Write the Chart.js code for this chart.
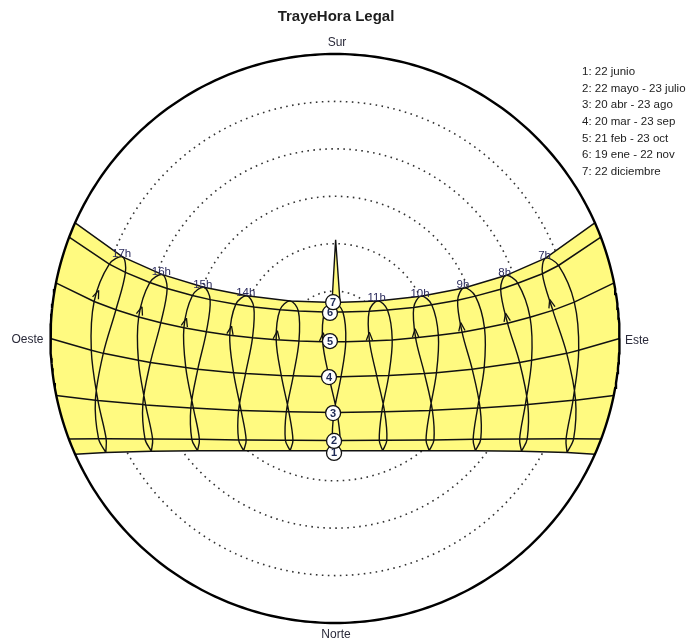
<!DOCTYPE html>
<html>
<head>
<meta charset="utf-8">
<script src="https://cdn.jsdelivr.net/npm/chart.js@4/dist/chart.umd.min.js"></script>
<style>
  html, body { margin: 0; padding: 0; background: #ffffff; }
  canvas { display: block; }
</style>
</head>
<body>
<canvas id="sunpath" width="688" height="638"></canvas>
<script>
// Sun path diagram, equidistant polar projection.
// Coordinates are degrees from the zenith: x toward Este, y toward Sur.

const chartTitle = 'TrayeHora Legal';
const dateLabels = [
  '1: 22 junio',
  '2: 22 mayo - 23 julio',
  '3: 20 abr - 23 ago',
  '4: 20 mar - 23 sep',
  '5: 21 feb - 23 oct',
  '6: 19 ene - 22 nov',
  '7: 22 diciembre'
];
const hourLabels = ['7h', '8h', '9h', '10h', '11h', '12h', '13h', '14h', '15h', '16h', '17h'];
const unlabeledHours = ['12h', '13h'];

// Each hour path runs through the year:
// 22 jun, 23 jul, 23 ago, 23 sep, 23 oct, 22 nov, 22 dic, 19 ene, 21 feb, 20 mar, 20 abr, 22 may
// and this says which date curve (1..7) each of those positions lies on.
const cycleCurve = [1, 2, 3, 4, 5, 6, 7, 6, 5, 4, 3, 2];

const h07 = [[73.4,-36.1],[75.5,-31.7],[76.1,-19.5],[73.3,-4.7],[68.9,8.9],[65.6,20.5],[66.6,25.4],[70.7,23.1],[75.7,11.5],[77.1,-3.7],[75.3,-19.5],[73.1,-31.7]];
const h08 = [[59.0,-35.7],[60.8,-31.8],[61.0,-20.9],[58.4,-7.6],[54.6,4.8],[52.4,15.6],[54.0,19.9],[57.8,17.5],[61.7,6.7],[62.2,-6.9],[60.2,-21.0],[58.4,-31.8]];
const h09 = [[44.4,-35.5],[46.1,-31.9],[45.9,-22.0],[43.4,-9.7],[40.2,2.0],[38.8,12.1],[40.8,16.0],[44.4,13.4],[47.3,3.3],[47.2,-9.2],[45.1,-22.0],[43.7,-31.9]];
const h10 = [[29.8,-35.5],[31.3,-32.1],[30.8,-22.7],[28.3,-11.1],[25.5,0.2],[24.9,9.8],[27.2,13.4],[30.6,10.7],[32.7,1.0],[32.1,-10.8],[30.0,-22.8],[28.8,-32.1]];
const h11 = [[15.1,-35.5],[16.4,-32.2],[15.7,-23.2],[13.2,-11.8],[10.9,-0.8],[10.8,8.6],[13.5,11.9],[16.6,9.0],[18.1,-0.5],[17.0,-11.7],[14.8,-23.2],[14.0,-32.2]];
const h12 = [[0.4,-35.5],[1.6,-32.3],[0.6,-23.4],[-1.9,-12.1],[-3.9,-1.0],[-3.3,8.4],[-0.4,11.4],[2.5,8.4],[3.4,-1.0],[1.9,-12.1],[-0.3,-23.4],[-0.8,-32.3]];
const h13 = [[-14.2,-35.5],[-13.3,-32.2],[-14.6,-23.2],[-17.0,-11.7],[-18.6,-0.4],[-17.4,9.1],[-14.2,11.9],[-11.6,8.7],[-11.4,-0.8],[-13.2,-11.8],[-15.4,-23.2],[-15.7,-32.2]];
const h14 = [[-28.9,-35.5],[-28.1,-32.1],[-29.7,-22.8],[-32.1,-10.8],[-33.3,1.0],[-31.4,10.8],[-27.9,13.5],[-25.7,10.0],[-26.1,0.2],[-28.3,-11.1],[-30.5,-22.8],[-30.5,-32.1]];
const h15 = [[-43.5,-35.5],[-42.9,-31.9],[-44.8,-22.0],[-47.2,-9.2],[-47.8,3.4],[-45.1,13.6],[-41.5,16.2],[-39.5,12.3],[-40.7,2.1],[-43.4,-9.7],[-45.6,-22.0],[-45.3,-31.9]];
const h16 = [[-58.1,-35.7],[-57.7,-31.8],[-59.9,-21.0],[-62.2,-6.9],[-62.1,6.8],[-58.6,17.7],[-54.6,20.2],[-53.1,15.8],[-55.1,5.0],[-58.4,-7.6],[-60.8,-20.9],[-60.1,-31.8]];
const h17 = [[-72.5,-36.1],[-72.4,-31.7],[-75.0,-19.6],[-77.1,-3.7],[-76.2,11.7],[-71.4,23.5],[-67.2,25.8],[-66.3,20.9],[-69.3,9.1],[-73.3,-4.7],[-75.8,-19.5],[-74.8,-31.7]];
const hourPaths = [h07, h08, h09, h10, h11, h12, h13, h14, h15, h16, h17];

// Sunrise / sunset points of each date curve on the horizon (east at +x, west at -x)
const horizonX = [82.2, 84.2, 88.2, 90.0, 88.3, 84.1, 82.2];
const horizonY = [-36.6, -31.8, -18.0, 0.0, 17.6, 32.1, 36.6];

// Numbered markers of the date curves near the meridian
const curveLabelX = [-0.3, -0.3, -0.6, -1.9, -1.6, -1.6, -0.6];
const curveLabelY = [-36.2, -32.4, -23.6, -12.2, -0.8, 8.1, 11.5];

// Narrow noon mark rising above the 22 dic curve
const noonSpike = [[-0.95, 11.4], [0.2, 31.2], [1.6, 11.4]];

// Altitude rings (zenith distance, degrees) and the horizon
const zenithRings = [15, 30, 45, 60, 75];
const horizonRadius = 90;

const ink = '#111111';
const bandYellow = '#fffa80';
const fontFamily = '"Liberation Sans", Arial, Helvetica, sans-serif';

function arcPoints(r, a0, a1, stepDeg) {
  const n = Math.max(2, Math.ceil(Math.abs(a1 - a0) / stepDeg));
  const pts = [];
  for (let i = 0; i <= n; i++) {
    const a = (a0 + (a1 - a0) * i / n) * Math.PI / 180;
    pts.push({ x: r * Math.cos(a), y: r * Math.sin(a) });
  }
  return pts;
}

// A date curve: every hour position on it plus its two horizon ends, east to west
function dateCurve(c) {
  const pts = [];
  hourPaths.forEach(path => path.forEach((p, i) => {
    if (cycleCurve[i] === c + 1) pts.push({ x: p[0], y: p[1] });
  }));
  pts.push({ x: horizonX[c], y: horizonY[c] }, { x: -horizonX[c], y: horizonY[c] });
  return pts.sort((a, b) => b.x - a.x);
}

const toDeg = r => r * 180 / Math.PI;
const lineBase = { showLine: true, pointRadius: 0, pointHoverRadius: 0, fill: false, clip: false, tension: 0 };
const datasets = [];

zenithRings.forEach(r => datasets.push({
  ...lineBase, data: arcPoints(r, 0, 360, 2),
  borderColor: '#333333', borderWidth: 1.6, borderDash: [1.6, 4.4], order: 100
}));

// Yellow band between the 22 dic and 22 jun curves, closed along the horizon
const top7 = dateCurve(6);
const bottom1 = dateCurve(0).slice().reverse();
const west7 = toDeg(Math.atan2(horizonY[6], -horizonX[6]));
const west1 = 360 + toDeg(Math.atan2(horizonY[0], -horizonX[0]));
const east1 = toDeg(Math.atan2(horizonY[0], horizonX[0]));
const east7 = toDeg(Math.atan2(horizonY[6], horizonX[6]));
datasets.push({
  ...lineBase,
  data: [...top7, ...arcPoints(horizonRadius, west7, west1, 2), ...bottom1, ...arcPoints(horizonRadius, east1, east7, 2)],
  fill: 'shape', backgroundColor: bandYellow, borderColor: 'rgba(0,0,0,0)', borderWidth: 0, order: 90
});

for (let c = 0; c < 7; c++) {
  datasets.push({ ...lineBase, data: dateCurve(c), borderColor: ink, borderWidth: 1.5, order: 50 });
}

hourPaths.forEach(path => {
  const pts = path.map(([x, y]) => ({ x, y }));
  pts.push({ x: path[0][0], y: path[0][1] });
  datasets.push({ ...lineBase, data: pts, borderColor: ink, borderWidth: 1.4, tension: 0.35, order: 40 });
});

datasets.push({
  ...lineBase, data: arcPoints(horizonRadius, 0, 360, 1),
  borderColor: '#000000', borderWidth: 2.4, order: 30
});

datasets.push({
  ...lineBase,
  data: [...noonSpike.map(([x, y]) => ({ x, y })), { x: noonSpike[0][0], y: noonSpike[0][1] }],
  fill: 'shape', backgroundColor: bandYellow, borderColor: ink, borderWidth: 1.4, order: 20
});

// Arrows, hour names, curve markers and all surrounding text
const decorations = {
  id: 'decorations',
  afterDatasetsDraw(chart) {
    const ctx = chart.ctx;
    const sx = chart.scales.x, sy = chart.scales.y;
    const P = (x, y) => [sx.getPixelForValue(x), sy.getPixelForValue(y)];
    ctx.save();

    // direction arrows on the 23 oct -> 22 nov stretch of every hour path
    ctx.strokeStyle = ink;
    ctx.lineWidth = 1.3;
    hourPaths.forEach(path => {
      const a = P(path[4][0], path[4][1]);
      const b = P(path[5][0], path[5][1]);
      const dx = b[0] - a[0], dy = b[1] - a[1];
      const len = Math.hypot(dx, dy);
      const ux = dx / len, uy = dy / len;
      const tx = a[0] + dx * 0.3, ty = a[1] + dy * 0.3;
      const L = 9, ang = 0.36;
      ctx.beginPath();
      [-ang, ang].forEach(s => {
        const cx = ux * Math.cos(s) - uy * Math.sin(s);
        const cy = ux * Math.sin(s) + uy * Math.cos(s);
        ctx.moveTo(tx, ty);
        ctx.lineTo(tx - cx * L, ty - cy * L);
      });
      ctx.stroke();
    });

    // hour names at the 22 dic end of each path
    ctx.font = '11.5px ' + fontFamily;
    ctx.fillStyle = '#2a2a5c';
    ctx.textAlign = 'center';
    ctx.textBaseline = 'alphabetic';
    hourPaths.forEach((path, i) => {
      if (unlabeledHours.includes(hourLabels[i])) return;
      const p = P(path[6][0], path[6][1]);
      ctx.fillText(hourLabels[i], p[0] - 1, p[1] + 0.5);
    });

    // numbered date-curve markers
    ctx.font = 'bold 11px ' + fontFamily;
    ctx.textBaseline = 'middle';
    for (let c = 0; c < curveLabelX.length; c++) {
      const p = P(curveLabelX[c], curveLabelY[c]);
      ctx.beginPath();
      ctx.arc(p[0], p[1], 7.5, 0, Math.PI * 2);
      ctx.fillStyle = '#ffffff';
      ctx.fill();
      ctx.strokeStyle = ink;
      ctx.lineWidth = 1.3;
      ctx.stroke();
      ctx.fillStyle = '#1e2a55';
      ctx.fillText(String(c + 1), p[0], p[1] + 0.5);
    }

    // title
    ctx.fillStyle = '#1e1e1e';
    ctx.textBaseline = 'alphabetic';
    ctx.textAlign = 'center';
    ctx.font = 'bold 15px ' + fontFamily;
    ctx.fillText(chartTitle, 336, 21);

    // cardinal points
    ctx.font = '12px ' + fontFamily;
    ctx.fillStyle = '#2a2a3a';
    const top = P(0, horizonRadius), bottom = P(0, -horizonRadius);
    const west = P(-horizonRadius, 0), east = P(horizonRadius, 0);
    ctx.fillText('Sur', top[0] + 2, top[1] - 8);
    ctx.fillText('Norte', bottom[0] + 1, bottom[1] + 14.5);
    ctx.textAlign = 'right';
    ctx.fillText('Oeste', west[0] - 7, west[1] + 4.5);
    ctx.textAlign = 'left';
    ctx.fillText('Este', east[0] + 5.5, east[1] + 5.5);

    // date list
    ctx.font = '11.5px ' + fontFamily;
    ctx.fillStyle = '#222222';
    dateLabels.forEach((t, i) => ctx.fillText(t, 582, 75 + i * 16.67));

    ctx.restore();
  }
};

new Chart(document.getElementById('sunpath'), {
  type: 'scatter',
  data: { datasets },
  options: {
    responsive: false,
    devicePixelRatio: 1,
    animation: false,
    events: [],
    layout: { padding: { left: 50.5, right: 68.5, top: 54, bottom: 15 } },
    scales: {
      x: { type: 'linear', min: -90, max: 90, display: false },
      y: { type: 'linear', min: -90, max: 90, display: false }
    },
    plugins: {
      legend: { display: false },
      tooltip: { enabled: false },
      title: { display: false }
    }
  },
  plugins: [decorations]
});
</script>
</body>
</html>
